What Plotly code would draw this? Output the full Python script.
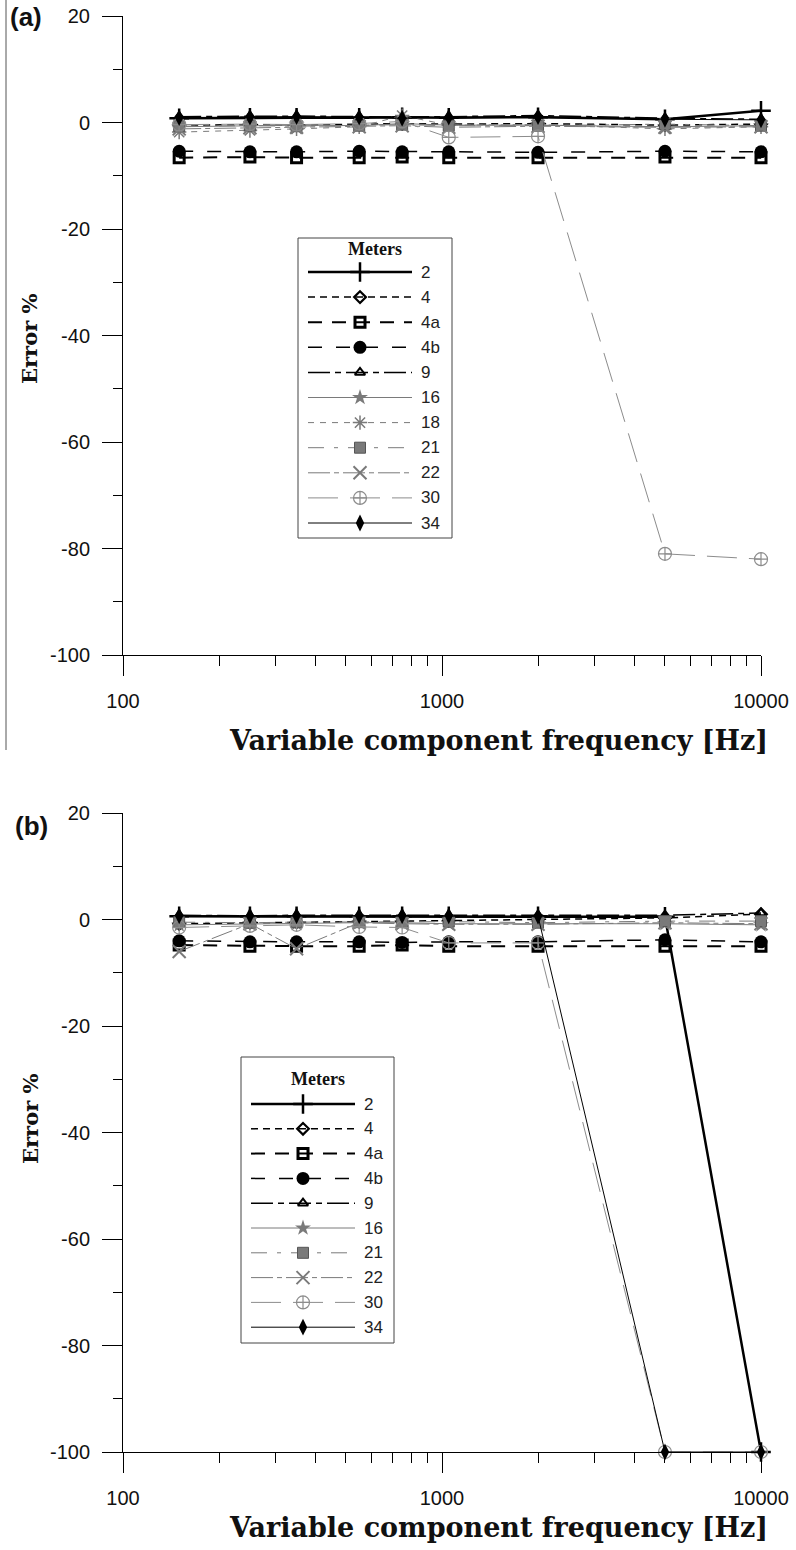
import plotly.graph_objects as go

W, H = 796, 1550

# Test frequencies of the variable component [Hz]
freq = [150, 250, 350, 550, 750, 1050, 2000, 5000, 10000]

# Panel (a): error % per meter
a_2 = [0.8, 0.9, 0.9, 0.9, 1.0, 0.9, 1.0, 0.6, 2.2]
a_4 = [-0.5, -0.4, -0.5, -0.3, -0.2, -0.3, -0.2, -0.5, -0.3]
a_4a = [-6.6, -6.5, -6.6, -6.6, -6.5, -6.6, -6.6, -6.5, -6.6]
a_4b = [-5.4, -5.5, -5.5, -5.4, -5.5, -5.5, -5.6, -5.4, -5.5]
a_9 = [1.1, 1.2, 1.2, 1.1, 1.0, 1.1, 1.3, 0.8, 0.6]
a_16 = [-0.8, -0.6, -0.5, -0.6, -0.2, -0.5, -0.5, -0.8, -0.6]
a_18 = [-1.8, -1.5, -1.2, -0.8, 1.3, -0.5, -0.4, -1.2, -0.8]
a_21 = [-0.7, -0.6, -0.7, -0.6, -0.4, -0.6, -0.6, -0.3, -0.6]
a_22 = [-1.2, -1.0, -0.9, -0.8, -0.6, -0.9, -0.7, -0.9, -0.8]
a_30 = [-0.4, -0.3, -0.4, -0.2, 0.2, -2.8, -2.6, -81.0, -82.0]
a_34 = [0.9, 1.0, 1.1, 1.0, 0.8, 1.0, 1.1, 0.6, 0.5]

# Panel (b): error % per meter
b_2 = [0.6, 0.6, 0.6, 0.6, 0.6, 0.6, 0.6, 0.5, -100.0]
b_4 = [-0.8, -0.6, -0.5, -0.4, -0.3, -0.2, 0.0, 0.3, 1.0]
b_4a = [-4.8, -5.0, -5.0, -5.0, -4.8, -5.0, -5.0, -5.0, -5.0]
b_4b = [-4.0, -4.2, -4.2, -4.2, -4.3, -4.2, -4.2, -3.8, -4.2]
b_9 = [0.8, 0.7, 0.8, 0.8, 0.8, 0.8, 0.8, 0.8, 1.2]
b_16 = [-1.0, -0.8, -0.8, -0.6, -0.6, -0.8, -0.8, -0.8, -1.0]
b_21 = [-0.5, -0.6, -0.5, -0.5, -0.5, -0.4, -0.6, -0.3, -0.3]
b_22 = [-6.0, -0.8, -5.5, -0.6, -0.8, -0.9, -0.9, -0.6, -0.8]
b_30 = [-1.5, -1.2, -1.0, -1.4, -1.5, -4.4, -4.4, -100.0, -100.0]
b_34 = [0.7, 0.7, 0.7, 0.7, 0.7, 0.7, 0.6, -100.0, -100.0]

meters_a = ["2", "4", "4a", "4b", "9", "16", "18", "21", "22", "30", "34"]
meters_b = ["2", "4", "4a", "4b", "9", "16", "21", "22", "30", "34"]

series_a = dict(zip(meters_a, [a_2, a_4, a_4a, a_4b, a_9, a_16, a_18, a_21, a_22, a_30, a_34]))
series_b = dict(zip(meters_b, [b_2, b_4, b_4a, b_4b, b_9, b_16, b_21, b_22, b_30, b_34]))

x_major = [100, 1000, 10000]
x_minor = [200, 300, 400, 500, 600, 700, 800, 900,
           2000, 3000, 4000, 5000, 6000, 7000, 8000, 9000]
y_major = [20, 0, -20, -40, -60, -80, -100]

GRAY = "#7a7a7a"
LGRAY = "#8c8c8c"
STYLE = {
    "2": dict(line=dict(color="black", width=2.5, dash="solid"),
              marker=dict(symbol="cross-thin-open", size=14, color="black", line=dict(color="black", width=2.5))),
    "4": dict(line=dict(color="black", width=1.5, dash="7px,5px"),
              marker=dict(symbol="diamond-open", size=9, color="black", line=dict(color="black", width=2.2))),
    "4a": dict(line=dict(color="black", width=2, dash="14px,10px"),
               marker=dict(symbol="square-open", size=10, color="black", line=dict(color="black", width=3))),
    "4b": dict(line=dict(color="black", width=1.5, dash="14px,14px"),
               marker=dict(symbol="circle", size=13, color="black", line=dict(width=0))),
    "9": dict(line=dict(color="black", width=1.5, dash="22px,5px,6px,5px"),
              marker=dict(symbol="triangle-up-open", size=9, color="black", line=dict(color="black", width=2))),
    "16": dict(line=dict(color=GRAY, width=1, dash="solid"),
               marker=dict(symbol="star", size=12, color=GRAY, line=dict(width=0))),
    "18": dict(line=dict(color=GRAY, width=1, dash="6px,6px"),
               marker=dict(symbol="asterisk-open", size=12, color=GRAY, line=dict(color=GRAY, width=1.5))),
    "21": dict(line=dict(color=GRAY, width=1, dash="16px,10px,4px,10px"),
               marker=dict(symbol="square", size=11, color=GRAY, line=dict(color="#555", width=1))),
    "22": dict(line=dict(color=GRAY, width=1, dash="22px,4px,5px,4px"),
               marker=dict(symbol="x-thin-open", size=13, color=GRAY, line=dict(color=GRAY, width=2))),
    "30": dict(line=dict(color=LGRAY, width=1, dash="30px,12px"),
               marker=dict(symbol="circle-cross-open", size=13, color=LGRAY, line=dict(color=LGRAY, width=1.2))),
    "34": dict(line=dict(color="black", width=1, dash="solid"),
               marker=dict(symbol="diamond-tall", size=12, color="black", line=dict(width=0))),
}

fig = go.Figure()

for name in meters_a:
    st = STYLE[name]
    fig.add_trace(go.Scatter(x=freq, y=series_a[name], mode="lines+markers", name=name,
                             line=st["line"], marker=st["marker"], cliponaxis=False,
                             xaxis="x", yaxis="y", showlegend=False))
for name in meters_b:
    st = STYLE[name]
    fig.add_trace(go.Scatter(x=freq, y=series_b[name], mode="lines+markers", name=name,
                             line=st["line"], marker=st["marker"], cliponaxis=False,
                             xaxis="x2", yaxis="y2", showlegend=False))


def px_x(v):
    return v / W


def px_y(v):
    return 1 - v / H


X_DOM = [px_x(123), px_x(761)]
TOP_DOM = [px_y(655), px_y(16)]
BOT_DOM = [px_y(1452), px_y(813)]

tick_font = dict(family="Liberation Sans, Arial, sans-serif", size=20, color="#111")


def x_axis(anchor):
    return dict(type="log", range=[2, 4], domain=X_DOM, anchor=anchor,
                showline=True, linecolor="black", linewidth=1,
                showgrid=False, zeroline=False,
                ticks="outside", ticklen=20, tickwidth=1, tickcolor="black",
                tickmode="array", tickvals=x_major, ticktext=[str(v) for v in x_major],
                tickfont=tick_font, ticklabelstandoff=8,
                minor=dict(ticks="outside", ticklen=10, tickwidth=1, tickcolor="black",
                           tickmode="array", tickvals=x_minor, showgrid=False),
                automargin=False, fixedrange=True)


def y_axis(anchor, dom):
    return dict(range=[-100, 20], domain=dom, anchor=anchor,
                showline=True, linecolor="black", linewidth=1,
                showgrid=False, zeroline=False,
                ticks="outside", ticklen=20, tickwidth=1, tickcolor="black",
                tickmode="array", tickvals=y_major, ticktext=[str(v) for v in y_major],
                tickfont=tick_font, ticklabelstandoff=8,
                minor=dict(ticks="outside", ticklen=9, tickwidth=1, tickcolor="black",
                           tickmode="linear", tick0=0, dtick=10, showgrid=False),
                automargin=False, fixedrange=True)


shapes = []
annotations = []

# Legend boxes drawn on a page-pixel overlay axis
def add_legend(names, box, first_row, row_gap, title_y):
    l, t, r, b = box
    shapes.append(dict(type="rect", xref="paper", yref="paper",
                       x0=px_x(l), x1=px_x(r), y0=px_y(b), y1=px_y(t),
                       line=dict(color="#444", width=1), fillcolor="white", layer="below"))
    annotations.append(dict(x=(l + r) / 2, y=title_y, xref="x3", yref="y3",
                            text="<b>Meters</b>", showarrow=False,
                            font=dict(family="Liberation Serif, Times New Roman, serif", size=18, color="#111"),
                            xanchor="center", yanchor="middle"))
    for i, name in enumerate(names):
        yy = first_row + i * row_gap
        st = STYLE[name]
        fig.add_trace(go.Scatter(x=[l + 10, l + 114], y=[yy, yy], mode="lines",
                                 line=st["line"], xaxis="x3", yaxis="y3",
                                 showlegend=False, hoverinfo="skip"))
        fig.add_trace(go.Scatter(x=[l + 62], y=[yy], mode="markers",
                                 marker=st["marker"], xaxis="x3", yaxis="y3",
                                 showlegend=False, hoverinfo="skip"))
        annotations.append(dict(x=l + 121, y=yy, xref="x3", yref="y3", text=name,
                                showarrow=False, xanchor="left", yanchor="middle",
                                font=dict(family="Liberation Sans, Arial, sans-serif", size=17, color="#222")))


add_legend(meters_a, (298, 238, 452, 538), 272, 25.1, 249)
add_legend(meters_b, (241, 1057, 394, 1343), 1104, 24.8, 1079)

title_font = dict(family="DejaVu Serif, serif", size=27, color="#111")
for cy in (740, 1527):
    annotations.append(dict(x=px_x(498), y=px_y(cy), xref="paper", yref="paper",
                            text="<b>Variable component frequency [Hz]</b>", showarrow=False,
                            font=title_font, xanchor="center", yanchor="middle"))
for cy in (338, 1118):
    annotations.append(dict(x=px_x(30), y=px_y(cy), xref="paper", yref="paper",
                            text="<b>Error %</b>", showarrow=False, textangle=-90,
                            font=dict(family="DejaVu Serif, serif", size=21, color="#111"),
                            xanchor="center", yanchor="middle"))
for txt, cx, cy in (("(a)", 26, 17), ("(b)", 31, 826)):
    annotations.append(dict(x=px_x(cx), y=px_y(cy), xref="paper", yref="paper",
                            text="<b>" + txt + "</b>", showarrow=False,
                            font=dict(family="Liberation Sans, Arial, sans-serif", size=26, color="#111"),
                            xanchor="center", yanchor="middle"))

# thin page rule on the left of panel (a)
shapes.append(dict(type="line", xref="paper", yref="paper",
                   x0=px_x(6), x1=px_x(6), y0=px_y(750), y1=px_y(0),
                   line=dict(color="#555", width=1)))

fig.update_layout(
    width=W, height=H,
    margin=dict(l=0, r=0, t=0, b=0, autoexpand=False),
    paper_bgcolor="white", plot_bgcolor="rgba(0,0,0,0)",
    showlegend=False,
    xaxis=x_axis("y"), yaxis=y_axis("x", TOP_DOM),
    xaxis2=x_axis("y2"), yaxis2=y_axis("x2", BOT_DOM),
    xaxis3=dict(domain=[0, 1], range=[0, W], visible=False, anchor="y3", fixedrange=True),
    yaxis3=dict(domain=[0, 1], range=[H, 0], visible=False, anchor="x3", fixedrange=True),
    shapes=shapes, annotations=annotations,
)

fig.write_html("out.html")
